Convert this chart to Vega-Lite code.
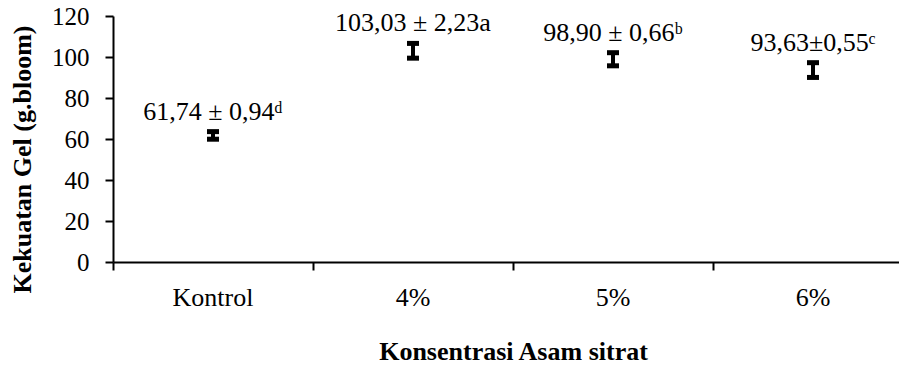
{
  "$schema": "https://vega.github.io/schema/vega-lite/v6.json",
  "width": 786,
  "height": 246,
  "autosize": "none",
  "padding": {"left": 113, "top": 16, "right": 0, "bottom": 105},
  "background": "white",
  "config": {"view": {"stroke": null}, "font": "Liberation Serif"},
  "data": {
    "values": [
      {"kategori": "Kontrol", "rata": 61.74, "bawah": 59.9, "atas": 63.6, "label": "61,74 ± 0,94ᵈ"},
      {"kategori": "4%", "rata": 103.03, "bawah": 99.43, "atas": 106.63, "label": "103,03 ± 2,23a"},
      {"kategori": "5%", "rata": 98.9, "bawah": 95.7, "atas": 102.1, "label": "98,90 ± 0,66ᵇ"},
      {"kategori": "6%", "rata": 93.63, "bawah": 90.03, "atas": 97.23, "label": "93,63±0,55ᶜ"}
    ]
  },
  "encoding": {
    "x": {
      "field": "kategori",
      "type": "nominal",
      "sort": null,
      "scale": {"range": [0, 800], "paddingInner": 0, "paddingOuter": 0},
      "axis": {
        "title": "Konsentrasi Asam sitrat",
        "labelAngle": 0,
        "bandPosition": 0,
        "labelFont": "Liberation Serif",
        "labelFontSize": 26,
        "labelColor": "black",
        "labelPadding": 14,
        "labelBaseline": "top",
        "domainColor": "black",
        "domainWidth": 2,
        "tickColor": "black",
        "tickWidth": 2,
        "tickSize": 8,
        "titleFont": "Liberation Serif",
        "titleFontSize": 26,
        "titleFontWeight": "bold",
        "titleColor": "black",
        "titleBaseline": "alphabetic",
        "titleY": 97,
        "titleX": 400
      }
    }
  },
  "layer": [
    {
      "mark": {"type": "rule", "color": "black", "strokeWidth": 4},
      "encoding": {
        "y": {
          "field": "bawah",
          "type": "quantitative",
          "scale": {"domain": [0, 120], "nice": false},
          "axis": {
            "title": "Kekuatan Gel (g.bloom)",
            "values": [0, 20, 40, 60, 80, 100, 120],
            "grid": false,
            "labelFont": "Liberation Serif",
            "labelFontSize": 25,
            "labelColor": "black",
            "labelPadding": 16,
            "domainColor": "black",
            "domainWidth": 2,
            "tickColor": "black",
            "tickWidth": 2,
            "tickSize": 8,
            "titleFont": "Liberation Serif",
            "titleFontSize": 26,
            "titleFontWeight": "bold",
            "titleColor": "black",
            "titleAngle": 270,
            "titleBaseline": "middle",
            "titleAlign": "center",
            "titleX": -91,
            "titleY": 143
          }
        },
        "y2": {"field": "atas"}
      }
    },
    {
      "mark": {"type": "tick", "color": "black", "size": 12, "thickness": 5, "opacity": 1},
      "encoding": {"y": {"field": "bawah", "type": "quantitative"}}
    },
    {
      "mark": {"type": "tick", "color": "black", "size": 12, "thickness": 5, "opacity": 1},
      "encoding": {"y": {"field": "atas", "type": "quantitative"}}
    },
    {
      "mark": {"type": "text", "font": "Liberation Serif", "fontSize": 26, "color": "black", "dy": -12, "baseline": "alphabetic", "align": "center"},
      "encoding": {
        "y": {"field": "atas", "type": "quantitative"},
        "text": {"field": "label"}
      }
    }
  ]
}
